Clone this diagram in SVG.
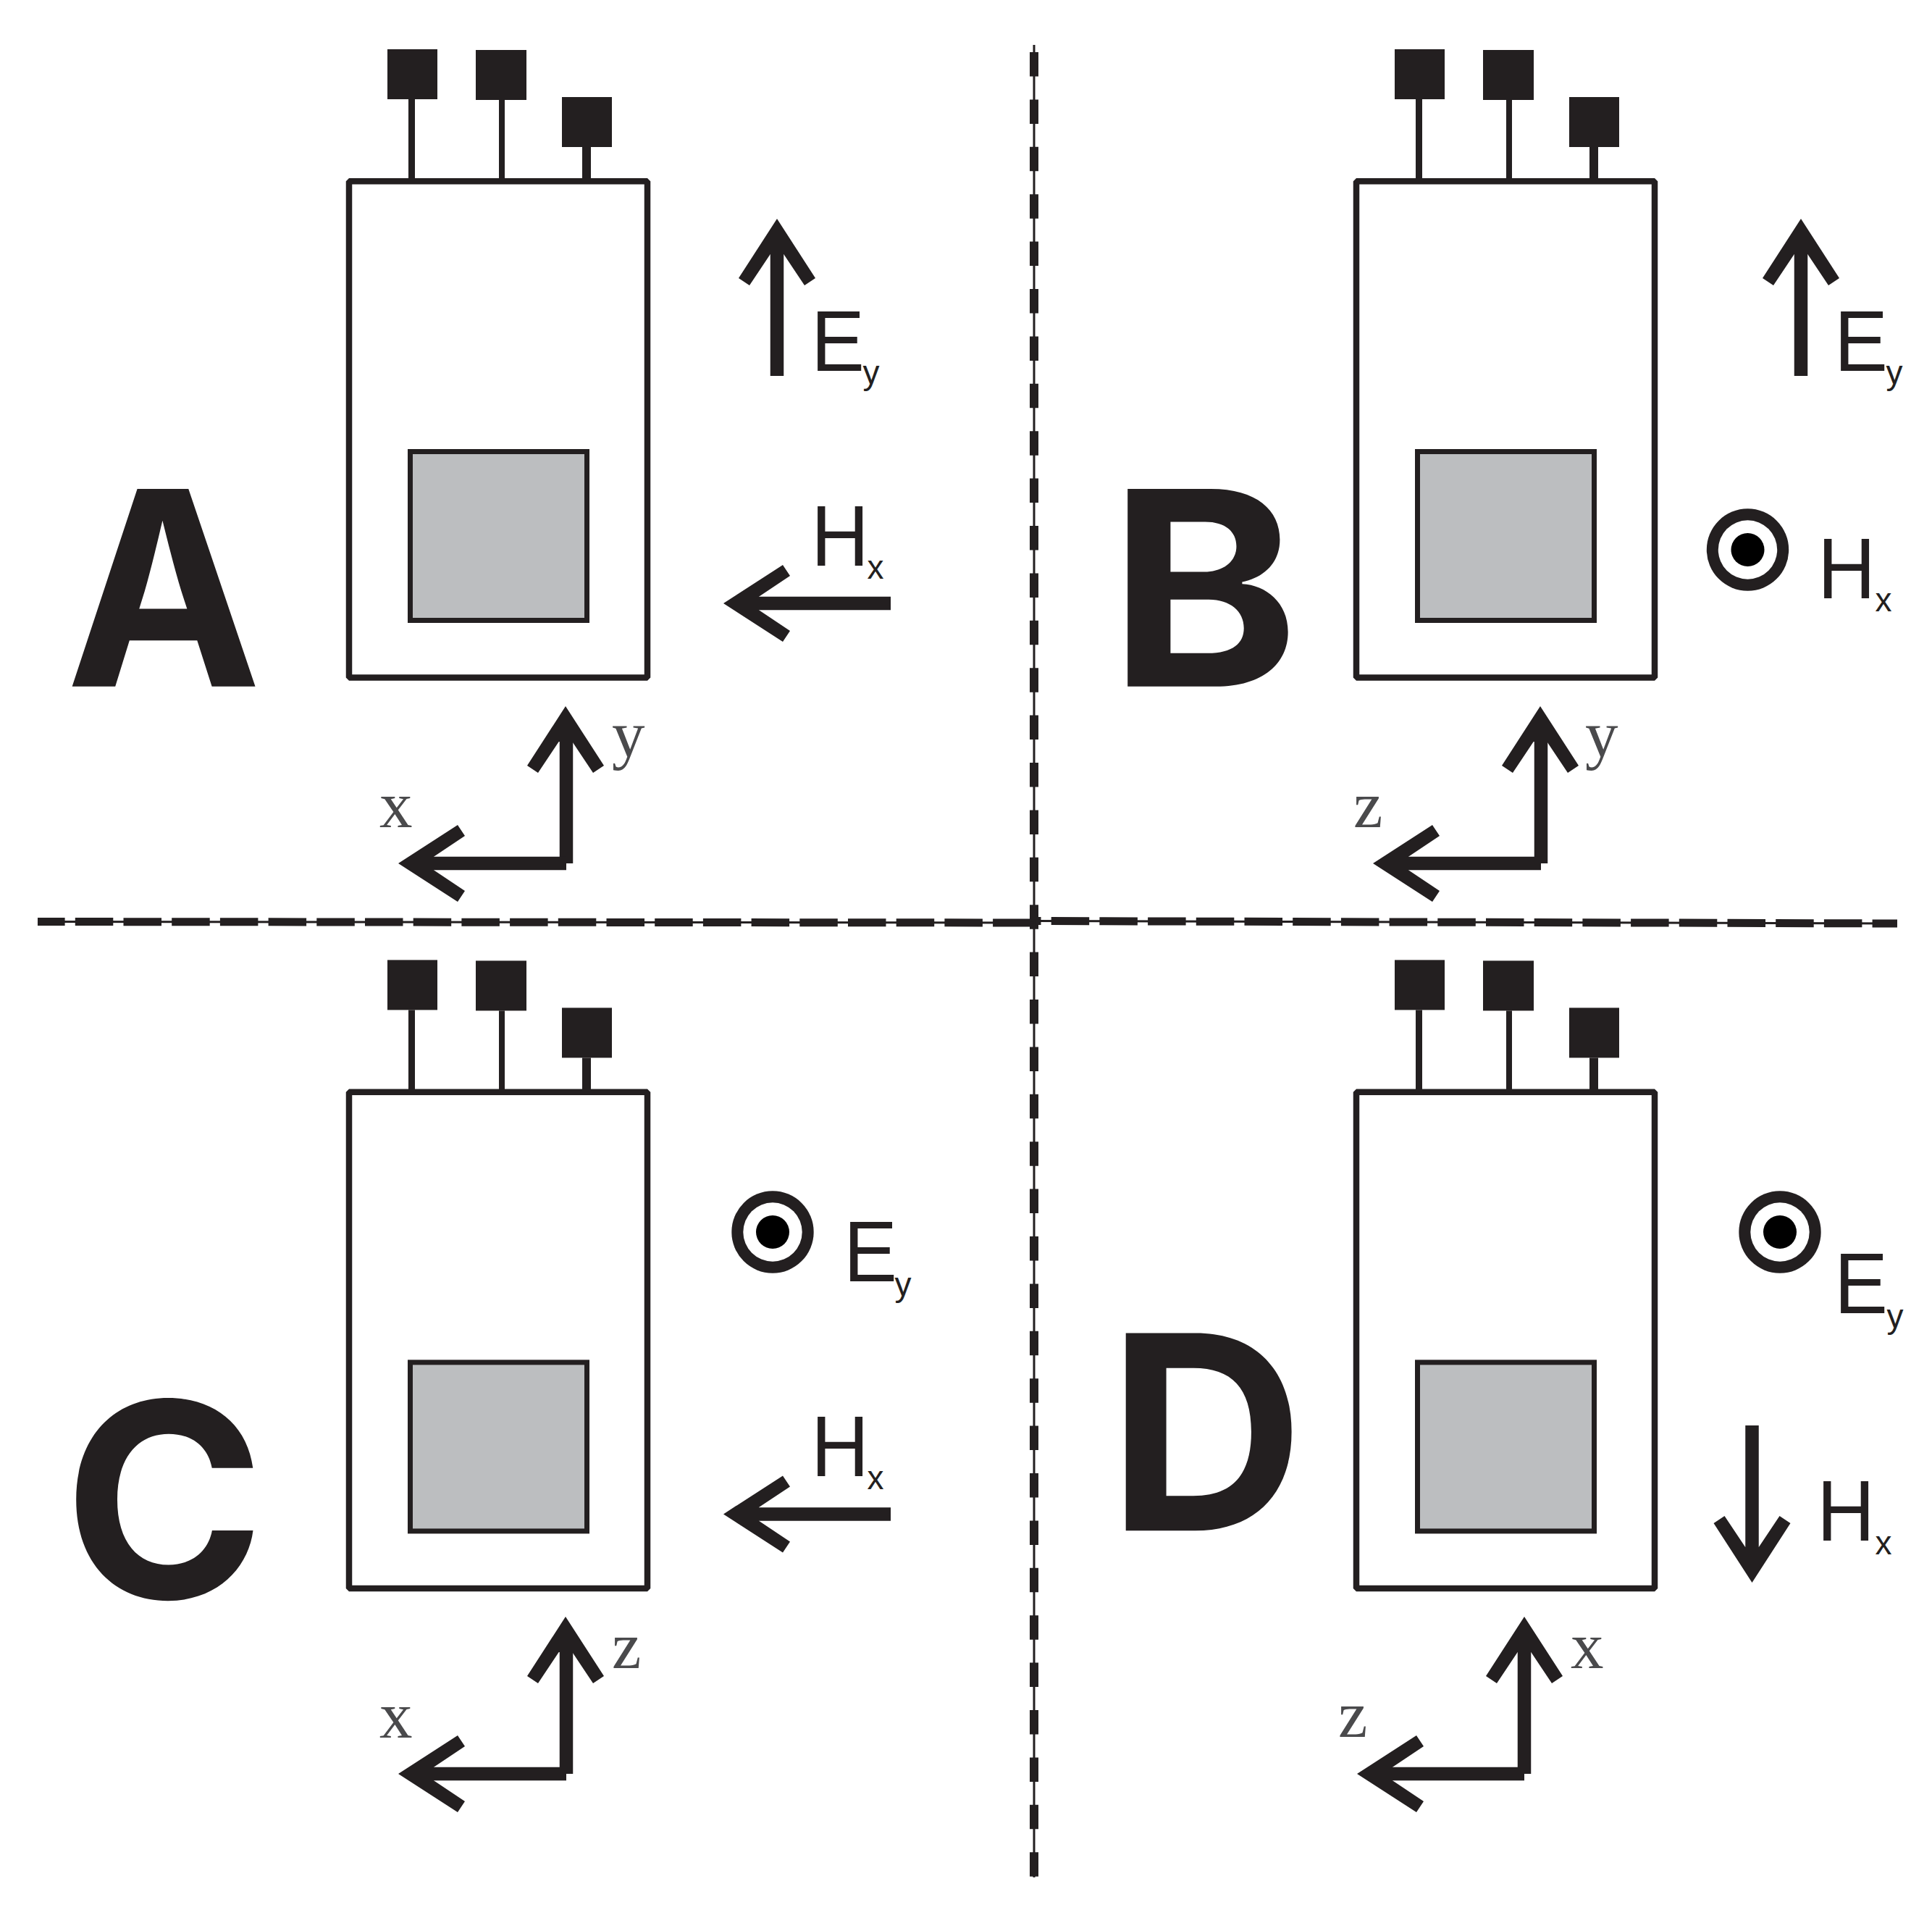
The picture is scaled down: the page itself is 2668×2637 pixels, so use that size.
<svg xmlns="http://www.w3.org/2000/svg" xmlns:xlink="http://www.w3.org/1999/xlink" width="2668" height="2637" viewBox="0 0 2668 2637">
<style>
.ink{fill:#231f20}
.box{fill:#fff;stroke:#231f20;stroke-width:8.5;stroke-linejoin:bevel}
.chip{fill:#bcbec0;stroke:#231f20;stroke-width:7}
.shaft{stroke:#231f20;stroke-width:18.5;fill:none}
.thin{stroke:#231f20;stroke-width:3;fill:none}
.dv{stroke:#231f20;stroke-width:12;fill:none;stroke-dasharray:33.5 31.9}
.dh{stroke:#231f20;stroke-width:11;fill:none;stroke-dasharray:52.5 14.2}
.big{font-family:Inter,"Liberation Sans",Arial,sans-serif;font-weight:700;font-size:375px;fill:#231f20}
.f{font-family:"Liberation Sans",Arial,sans-serif;font-size:118px;fill:#231f20}
.s{font-family:"Liberation Sans",Arial,sans-serif;font-size:46px;fill:#231f20}
.ax{font-family:"Liberation Serif","Times New Roman",serif;font-size:91px;fill:#4a4a4c}
</style>
<defs>
<polygon id="head" class="ink" points="0,0 53,82 38,92 9.3,49 -9.3,49 -38,92 -53,82"/>
<g id="device">
<rect class="ink" x="535" y="68" width="69" height="69"/>
<rect class="ink" x="657" y="69" width="70" height="69"/>
<rect class="ink" x="776" y="134" width="69" height="69"/>
<rect class="ink" x="564" y="137" width="9" height="110"/>
<rect class="ink" x="689" y="138" width="8" height="109"/>
<rect class="ink" x="804" y="203" width="12" height="44"/>
<rect class="box" x="482" y="250.3" width="412" height="685.2"/>
<rect class="chip" x="566.5" y="623.5" width="244" height="233"/>
</g>
<g id="target">
<circle r="56.7" fill="#231f20"/>
<circle r="40.7" fill="#fff"/>
<circle r="23" fill="#000"/>
</g>
</defs>
<rect width="2668" height="2637" fill="#fff"/>

<g id="dividers">
<path class="thin" d="M1428 62V2592"/>
<path class="dv" d="M1428 72V2592"/>
<path class="thin" d="M52 1272.5L480 1273L1428 1274"/>
<path class="dh" stroke-dashoffset="14.9" d="M52 1272.5L480 1273L1428 1274"/>
<path class="thin" d="M1430 1271.5L2620 1275"/>
<path class="dh" stroke-dashoffset="45" d="M1430 1271.5L2620 1275"/>
</g>

<g id="panel-a"><use xlink:href="#device" href="#device"/></g>
<g id="panel-b"><use xlink:href="#device" href="#device" transform="translate(1391 0)"/></g>
<g id="panel-c"><use xlink:href="#device" href="#device" transform="translate(0 1257.4)"/></g>
<g id="panel-d"><use xlink:href="#device" href="#device" transform="translate(1391 1257.4)"/></g>

<g id="connectors">
<g id="e-arrow-a"><line class="shaft" x1="1073" y1="519" x2="1073" y2="340"/><use href="#head" xlink:href="#head" transform="translate(1073 302)"/></g>
<g id="e-arrow-b"><line class="shaft" x1="2487" y1="519" x2="2487" y2="340"/><use href="#head" xlink:href="#head" transform="translate(2487 302)"/></g>
<g id="h-arrow-a"><line class="shaft" x1="1230" y1="833" x2="1040" y2="833"/><use href="#head" xlink:href="#head" transform="translate(999 833) rotate(-90)"/></g>
<g id="h-arrow-c"><line class="shaft" x1="1230" y1="2090.4" x2="1040" y2="2090.4"/><use href="#head" xlink:href="#head" transform="translate(999 2090.4) rotate(-90)"/></g>
<g id="h-arrow-d"><line class="shaft" x1="2419.5" y1="1968" x2="2419.5" y2="2145"/><use href="#head" xlink:href="#head" transform="translate(2419.5 2185) rotate(180)"/></g>
<g id="axes-a"><line class="shaft" x1="782" y1="1192" x2="782" y2="1015"/><line class="shaft" x1="782" y1="1192" x2="590" y2="1192"/><use href="#head" xlink:href="#head" transform="translate(781 975)"/><use href="#head" xlink:href="#head" transform="translate(550 1192) rotate(-90)"/></g>
<g id="axes-b"><line class="shaft" x1="2128" y1="1192" x2="2128" y2="1015"/><line class="shaft" x1="2128" y1="1192" x2="1936" y2="1192"/><use href="#head" xlink:href="#head" transform="translate(2127 975)"/><use href="#head" xlink:href="#head" transform="translate(1896 1192) rotate(-90)"/></g>
<g id="axes-c"><line class="shaft" x1="782" y1="2449" x2="782" y2="2272"/><line class="shaft" x1="782" y1="2449" x2="590" y2="2449"/><use href="#head" xlink:href="#head" transform="translate(781 2232)"/><use href="#head" xlink:href="#head" transform="translate(550 2449) rotate(-90)"/></g>
<g id="axes-d"><line class="shaft" x1="2105" y1="2449" x2="2105" y2="2272"/><line class="shaft" x1="2105" y1="2449" x2="1914" y2="2449"/><use href="#head" xlink:href="#head" transform="translate(2105 2232)"/><use href="#head" xlink:href="#head" transform="translate(1874 2449) rotate(-90)"/></g>
</g>

<g id="targets">
<use href="#target" xlink:href="#target" transform="translate(2413.5 759)"/>
<use href="#target" xlink:href="#target" transform="translate(1067 1701)"/>
<use href="#target" xlink:href="#target" transform="translate(2458 1701)"/>
</g>

<g id="letters">
<text class="big" transform="translate(91 947.7) scale(0.965 1)">A</text>
<text class="big" transform="translate(1531 947.7) scale(1.06 1)">B</text>
<text class="big" transform="translate(88 2206.5)">C</text>
<text class="big" transform="translate(1530 2113.3)">D</text>
</g>

<g id="labels">
<text class="f" transform="translate(1120 511.7) scale(.94 1)">E</text><text class="s" x="1191.5" y="530">y</text>
<text class="f" transform="translate(1120 781) scale(.94 1)">H</text><text class="s" x="1197.5" y="799">x</text>
<text class="f" transform="translate(2533 511.7) scale(.94 1)">E</text><text class="s" x="2604.5" y="530">y</text>
<text class="f" transform="translate(2510 826) scale(.94 1)">H</text><text class="s" x="2589.5" y="844">x</text>
<text class="f" transform="translate(1165 1769) scale(.94 1)">E</text><text class="s" x="1235.5" y="1789">y</text>
<text class="f" transform="translate(1120 2038.4) scale(.94 1)">H</text><text class="s" x="1197.5" y="2056.4">x</text>
<text class="f" transform="translate(2533 1813) scale(.94 1)">E</text><text class="s" x="2605.5" y="1833">y</text>
<text class="f" transform="translate(2509 2127) scale(.94 1)">H</text><text class="s" x="2589.5" y="2146">x</text>
<text class="ax" x="845" y="1045">y</text><text class="ax" x="524" y="1142">x</text>
<text class="ax" x="2189" y="1045">y</text><text class="ax" x="1869" y="1142">z</text>
<text class="ax" x="845" y="2303">z</text><text class="ax" x="524" y="2399.4">x</text>
<text class="ax" x="2169" y="2303">x</text><text class="ax" x="1848" y="2398">z</text>
</g>
</svg>
